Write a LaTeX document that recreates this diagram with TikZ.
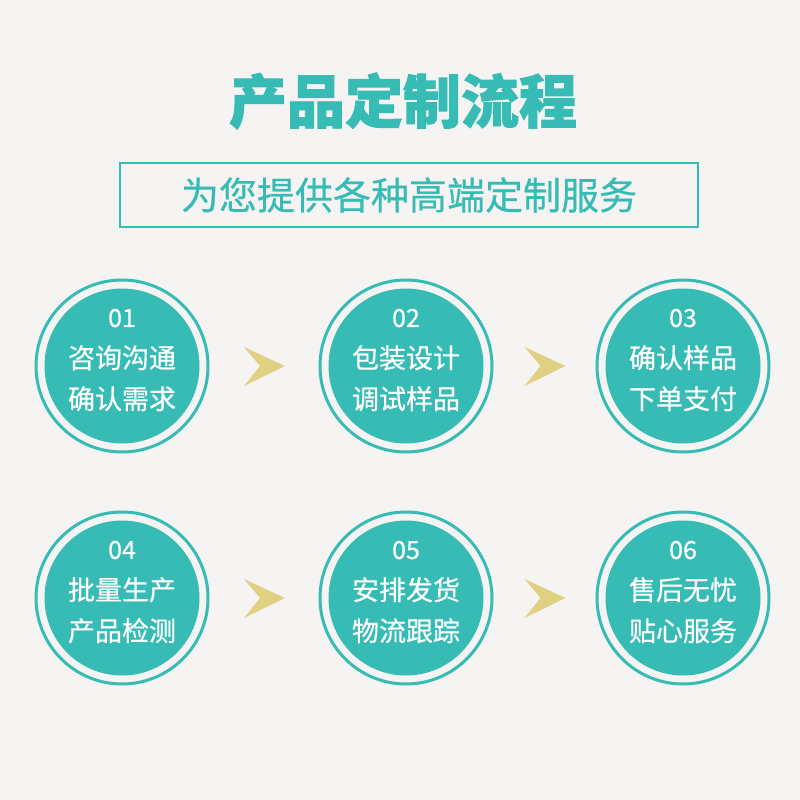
\documentclass[tikz,border=0pt]{standalone}
\usepackage{fontspec}
\newfontfamily\cjk[FakeBold=0.5]{Noto Sans CJK SC}
\newfontfamily\cjktitle[BoldFeatures={FakeBold=1.6}]{Noto Sans CJK SC}
\usetikzlibrary{calc}
\definecolor{tealMain}{HTML}{36BCB4}
\definecolor{bgGrey}{HTML}{F5F4F2}
\definecolor{chevGold}{HTML}{E0D081}

\begin{document}
\begin{tikzpicture}[x=1pt, y=-1pt,
  stepc/.style={circle, fill=tealMain, minimum size=155pt, inner sep=0pt},
  ring/.style={draw=tealMain, line width=3pt},
  steptxt/.style={text=white, align=center, inner sep=0pt,
                  font=\cjk\fontsize{27}{41}\selectfont},
  chev/.style={fill=chevGold}
]
\fill[bgGrey] (0,0) rectangle (800,800);
% heading
\node[text=tealMain, font=\cjktitle\bfseries\fontsize{58}{58}\selectfont] (title) at (403,101) {产品定制流程};
\node[draw=tealMain, line width=2.5pt, minimum width=578pt, minimum height=64pt,
      text=tealMain, font=\cjk\fontsize{38}{38}\selectfont] (sub) at (409,195) {为您提供各种高端定制服务};
% steps
\foreach \n/\x/\y/\lineA/\lineB in {1/122/366/咨询沟通/确认需求, 2/406/366/包装设计/调试样品,
    3/683/366/确认样品/下单支付, 4/122/598/批量生产/产品检测,
    5/406/598/安排发货/物流跟踪, 6/683/598/售后无忧/贴心服务}{
  \node[stepc] (c\n) at (\x,\y) {};
  \draw[ring] (c\n) circle[radius=86pt];
  \node[steptxt] (t\n) at ($(c\n)+(0,-6)$) {{\fontsize{25}{41}\selectfont 0\n}\\\lineA\\\lineB};
}
% chevrons between steps
\foreach \a/\b in {1/2, 2/3, 4/5, 5/6}
  \fill[chev] ($(c\a)!0.5!(c\b)$) ++(21,0) -- ++(-41,-19) -- ++(16,19) -- ++(-16,20) -- cycle;
\end{tikzpicture}
\end{document}
